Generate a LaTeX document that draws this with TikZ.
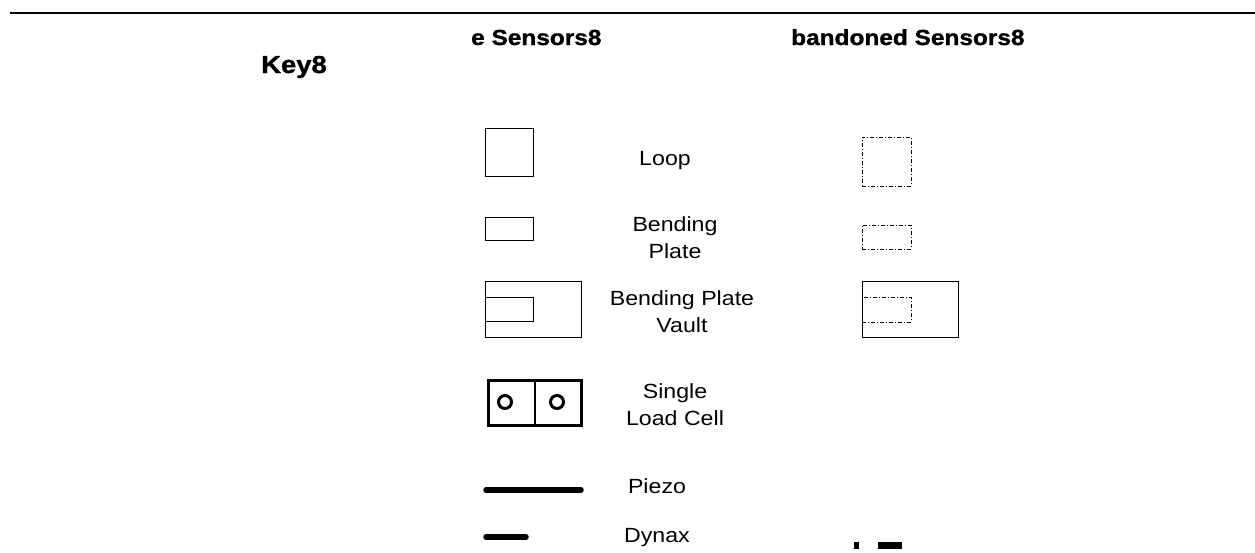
\documentclass[tikz,border=0pt]{standalone}
\usepackage{fontspec}
\setmainfont{Liberation Sans}
\newfontfamily\labfont[FakeStretch=1.13]{Liberation Sans}
\newfontfamily\ttlfont[FakeStretch=1.12,FakeBold=1.2]{Liberation Sans Bold}
\begin{document}
\begin{tikzpicture}[x=1pt,y=-1pt,
  solidbox/.style={draw, line width=0.9pt, inner sep=0pt, anchor=north west},
  abbox/.style={draw, line width=0.9pt, inner sep=0pt, anchor=north west, dash pattern=on 4pt off 2pt on 1pt off 2pt},
  lab/.style={font=\labfont\fontsize{20.5}{27}\selectfont, align=center, inner sep=0pt, anchor=base},
  ttl/.style={font=\ttlfont\fontsize{21.8}{26}\selectfont, inner sep=0pt, anchor=base west},
  bar/.style={line width=5.5pt, line cap=round}]
\useasboundingbox (0,0) rectangle (1255,552);
% top rule
\coordinate (ruleL) at (10,13);
\coordinate (ruleR) at (1255,13);
\draw[line width=1.3pt] (ruleL) -- (ruleR);
% titles
\node[ttl] (tact) at (471,45) {e Sensors8};
\node[ttl] (taband) at (791,45) {bandoned Sensors8};
\node[ttl, font=\ttlfont\fontsize{24.5}{28}\selectfont] (tkey) at (261,73) {Key8};
% Loop
\node[solidbox, minimum width=48pt, minimum height=48pt] (loopA) at (485,128) {};
\node[abbox, minimum width=49pt, minimum height=49pt] (loopB) at (862,137) {};
\node[lab] (loopT) at (665,165) {Loop};
% Bending plate
\node[solidbox, minimum width=48pt, minimum height=23pt] (bpA) at (485,217) {};
\node[abbox, minimum width=49pt, minimum height=24pt] (bpB) at (862,225) {};
\node[lab] (bpT) at (675,258) {Bending\\Plate};
% Bending plate vault
\node[solidbox, minimum width=96pt, minimum height=56pt] (bpvA) at (485,281) {};
\node[solidbox, minimum width=48pt, minimum height=24pt] (bpvAin) at (485,297) {};
\node[solidbox, minimum width=96pt, minimum height=56pt] (bpvB) at (862,281) {};
\node[abbox, minimum width=49pt, minimum height=25pt] (bpvBin) at (862,297) {};
\node[lab] (bpvT) at (682,332) {Bending Plate\\Vault};
% Single load cell
\node[draw, line width=3.5pt, inner sep=0pt, anchor=north west, minimum width=93pt, minimum height=45pt] (slc) at (486.5,378.5) {};
\draw[line width=1.5pt] (slc.north) -- (slc.south);
\node[draw, circle, line width=3pt, minimum size=13pt, inner sep=0pt] (c1) at (505,402) {};
\node[draw, circle, line width=3pt, minimum size=13pt, inner sep=0pt] (c2) at (557,402) {};
\node[lab] (slcT) at (675,425) {Single\\Load Cell};
% Piezo
\coordinate (pzL) at (486,490);
\coordinate (pzR) at (581,490);
\draw[bar] (pzL) -- (pzR);
\node[lab] (pzT) at (657,493) {Piezo};
% Dynax
\coordinate (dxL) at (486,537);
\coordinate (dxR) at (526,537);
\draw[bar] (dxL) -- (dxR);
\node[lab] (dxT) at (657,542) {Dynax};
% bottom fragments
\fill (854,542) rectangle (859,549);
\fill (878,542) rectangle (902,549);
\end{tikzpicture}
\end{document}
